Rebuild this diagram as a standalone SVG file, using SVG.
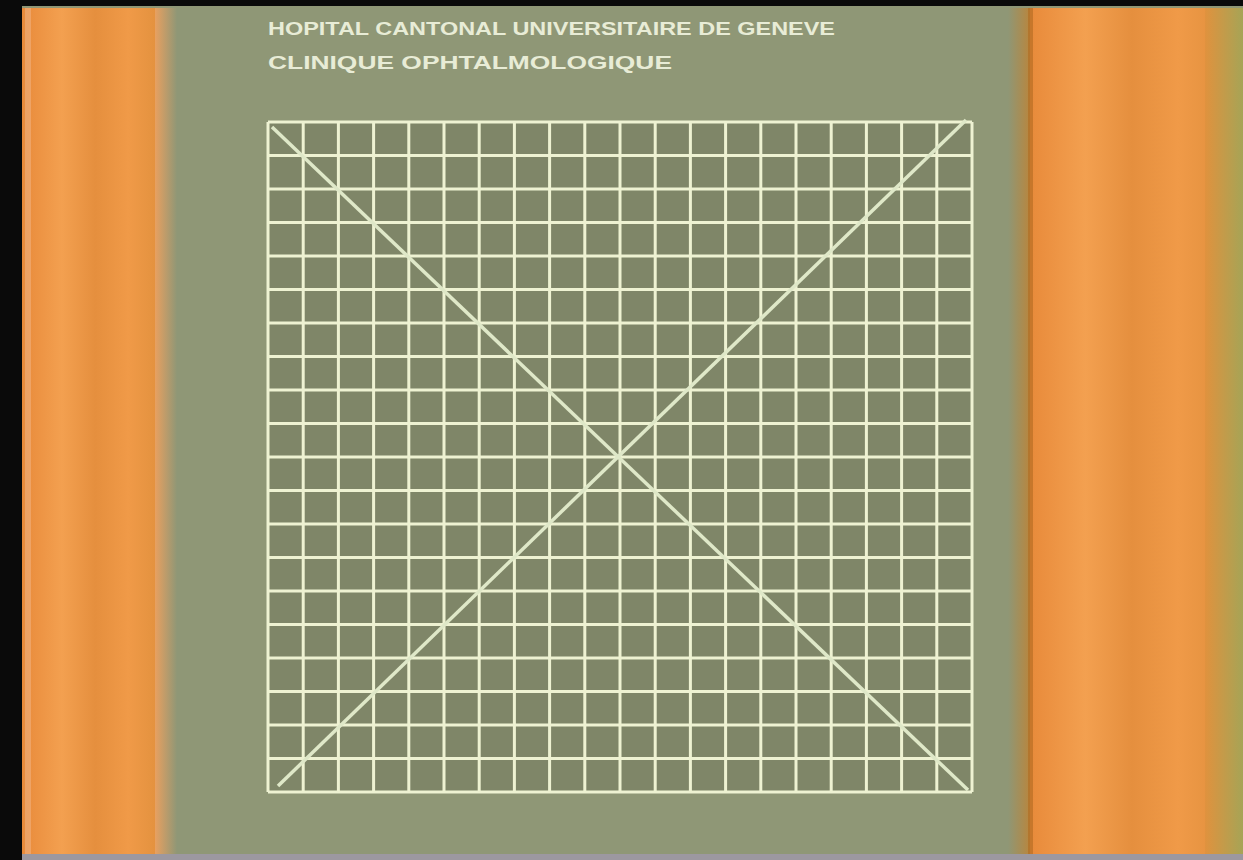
<svg xmlns="http://www.w3.org/2000/svg" width="1243" height="860" viewBox="0 0 1243 860">
<defs>
<linearGradient id="wood" x1="0" y1="0" x2="1" y2="0">
<stop offset="0" stop-color="#e88a3a"/>
<stop offset="0.3" stop-color="#f3a050"/>
<stop offset="0.55" stop-color="#e58f3e"/>
<stop offset="0.8" stop-color="#f09a48"/>
<stop offset="1" stop-color="#e4923f"/>
</linearGradient>
<linearGradient id="fadeL" x1="0" y1="0" x2="1" y2="0">
<stop offset="0" stop-color="#e8a060"/>
<stop offset="1" stop-color="#8f9776"/>
</linearGradient>
<linearGradient id="fadeR" x1="0" y1="0" x2="1" y2="0">
<stop offset="0" stop-color="#8f9776"/>
<stop offset="1" stop-color="#b8863e"/>
</linearGradient>
<linearGradient id="edgeR" x1="0" y1="0" x2="1" y2="0">
<stop offset="0" stop-color="#e0923e"/>
<stop offset="1" stop-color="#a6a456"/>
</linearGradient>
<style>
.g{stroke:#eef2d2;stroke-width:3;fill:none}
.d{stroke:#dfe8c8;stroke-width:3.5;fill:none}
.t{font-family:"Liberation Sans",Arial,sans-serif;font-weight:bold;fill:#e8ecd6;font-size:18px}
</style>
</defs>
<rect width="1243" height="860" fill="#8f9776"/>
<rect x="0" y="0" width="1243" height="6" fill="#0a0a0a"/>
<rect x="0" y="0" width="22" height="860" fill="#0a0a0a"/>
<rect x="22" y="8" width="133" height="848" fill="url(#wood)"/>
<rect x="25" y="8" width="6" height="848" fill="#f0b080" opacity="0.6"/>
<rect x="155" y="8" width="22" height="848" fill="url(#fadeL)"/>
<rect x="1008" y="8" width="22" height="848" fill="url(#fadeR)"/>
<rect x="1030" y="8" width="185" height="848" fill="url(#wood)"/>
<rect x="1028" y="8" width="5" height="848" fill="#b06a22" opacity="0.6"/>
<rect x="1205" y="8" width="38" height="848" fill="url(#edgeR)"/>
<rect x="22" y="854" width="1221" height="6" fill="#9c98a0"/>
<g id="header">
<text class="t" x="268" y="35" textLength="567" lengthAdjust="spacingAndGlyphs">HOPITAL CANTONAL UNIVERSITAIRE DE GENEVE</text>
<text class="t" x="268" y="69" textLength="404" lengthAdjust="spacingAndGlyphs">CLINIQUE OPHTALMOLOGIQUE</text>
</g>
<g id="grid">
<rect x="268" y="122" width="704" height="670" fill="#7f8668"/>
<path class="g" d="M268,122V792M303.2,122V792M338.4,122V792M373.6,122V792M408.8,122V792M444,122V792M479.2,122V792M514.4,122V792M549.6,122V792M584.8,122V792M620,122V792M655.2,122V792M690.4,122V792M725.6,122V792M760.8,122V792M796,122V792M831.2,122V792M866.4,122V792M901.6,122V792M936.8,122V792M972,122V792"/>
<path class="g" d="M268,122H972M268,155.5H972M268,189H972M268,222.5H972M268,256H972M268,289.5H972M268,323H972M268,356.5H972M268,390H972M268,423.5H972M268,457H972M268,490.5H972M268,524H972M268,557.5H972M268,591H972M268,624.5H972M268,658H972M268,691.5H972M268,725H972M268,758.5H972M268,792H972"/>
</g>
<g id="diagonals">
<line class="d" x1="272" y1="127" x2="968" y2="790"/>
<line class="d" x1="278" y1="786" x2="966" y2="120"/>
</g>
</svg>
